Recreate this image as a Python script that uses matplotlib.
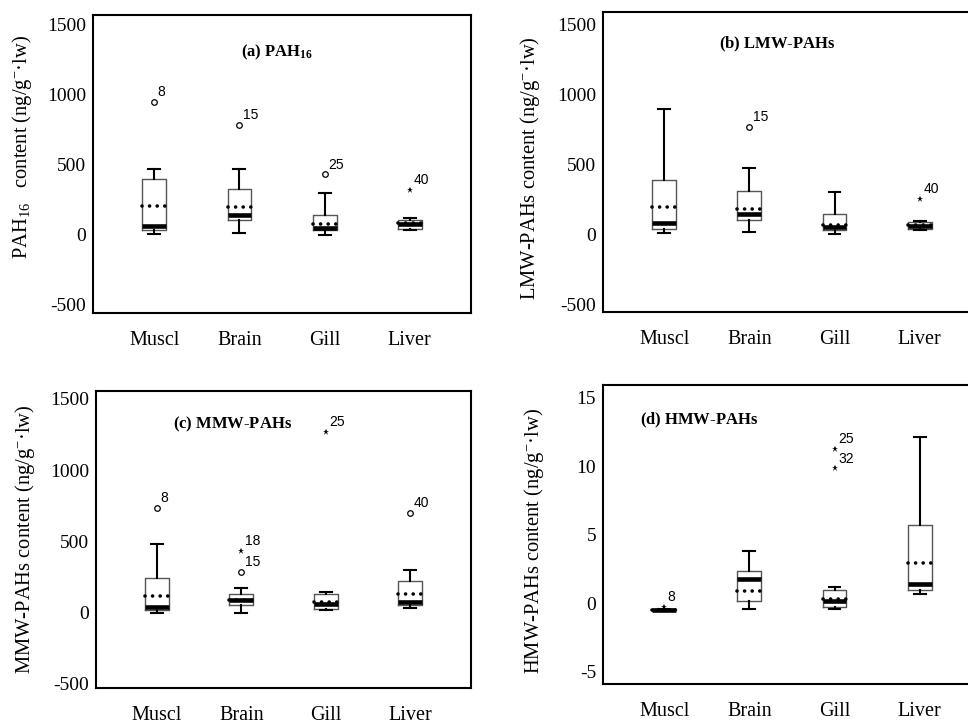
import matplotlib.pyplot as plt

plt.rcParams['font.family'] = 'Liberation Serif'
plt.rcParams['mathtext.fontset'] = 'custom'
plt.rcParams['mathtext.rm'] = 'Liberation Serif'
plt.rcParams['mathtext.bf'] = 'Liberation Serif:bold'
plt.rcParams['mathtext.it'] = 'Liberation Serif:italic'
plt.rcParams['axes.unicode_minus'] = False

organs = ['Muscl', 'Brain', 'Gill', 'Liver']

# (a) PAH16
pah16_low = [5, 12, 0, 31]
pah16_q1 = [36, 105, 31, 38]
pah16_med = [64, 138, 50, 74]
pah16_q3 = [398, 326, 143, 105]
pah16_high = [471, 467, 298, 121]
pah16_mean = [202, 195, 76, 80]
pah16_out_organ = ['Muscl', 'Brain', 'Gill', 'Liver']
pah16_out_val = [952, 783, 431, 321]
pah16_out_case = ['8', '15', '25', '40']
pah16_out_type = ['outlier', 'outlier', 'outlier', 'extreme']

# (b) LMW-PAHs
lmw_low = [17, 24, 10, 38]
lmw_q1 = [43, 107, 36, 45]
lmw_med = [83, 148, 60, 67]
lmw_q3 = [390, 312, 148, 95]
lmw_high = [902, 479, 307, 100]
lmw_mean = [202, 188, 69, 72]
lmw_out_organ = ['Brain', 'Liver']
lmw_out_val = [774, 257]
lmw_out_case = ['15', '40']
lmw_out_type = ['outlier', 'extreme']

# (c) MMW-PAHs
mmw_low = [-5, -5, 14, 28]
mmw_q1 = [16, 49, 26, 51]
mmw_med = [40, 89, 58, 70]
mmw_q3 = [241, 131, 129, 218]
mmw_high = [480, 173, 145, 297]
mmw_mean = [117, 89, 73, 129]
mmw_out_organ = ['Muscl', 'Brain', 'Brain', 'Gill', 'Liver']
mmw_out_val = [734, 430, 285, 1270, 697]
mmw_out_case = ['8', '18', '15', '25', '40']
mmw_out_type = ['outlier', 'extreme', 'outlier', 'extreme', 'outlier']

# (d) HMW-PAHs
hmw_low = [-0.5, -0.44, -0.44, 0.71]
hmw_q1 = [-0.5, 0.15, -0.24, 1.0]
hmw_med = [-0.45, 1.80, 0.17, 1.44]
hmw_q3 = [-0.4, 2.38, 0.95, 5.74]
hmw_high = [-0.4, 3.84, 1.19, 12.1]
hmw_mean = [-0.45, 0.92, 0.32, 2.94]
hmw_out_organ = ['Muscl', 'Gill', 'Gill']
hmw_out_val = [-0.24, 11.24, 9.85]
hmw_out_case = ['8', '25', '32']
hmw_out_type = ['extreme', 'extreme', 'extreme']


def draw_panel(ax, low, q1, med, q3, high, mean, out_organ, out_val, out_case, out_type,
               title, title_pos, ylabel, ylabel_pos, ylim, yticks):
    stats = []
    for i in range(len(organs)):
        stats.append(dict(label=organs[i], whislo=low[i], q1=q1[i], med=med[i],
                          q3=q3[i], whishi=high[i], mean=mean[i], fliers=[]))
    pos = list(range(1, len(organs) + 1))
    ax.bxp(stats, positions=pos, widths=0.28, capwidths=0.14,
           showmeans=True, meanline=True, showfliers=False,
           boxprops=dict(color='#555555', linewidth=1.0),
           whiskerprops=dict(color='black', linewidth=1.5),
           capprops=dict(color='black', linewidth=1.5),
           medianprops=dict(color='black', linewidth=3.3, solid_capstyle='butt'),
           meanprops=dict(color='black', linewidth=2.6, linestyle=(0, (0.01, 2.09)),
                          dash_capstyle='round'))
    for org, val, case, kind in zip(out_organ, out_val, out_case, out_type):
        x = organs.index(org) + 1
        if kind == 'outlier':
            ax.plot(x, val, 'o', ms=4, mfc='white', mec='black', mew=0.9)
        else:
            ax.plot(x, val, '*', ms=4.5, color='black', mew=0)
        ax.annotate(case, (x, val), xytext=(2.5, 2), textcoords='offset points',
                    ha='left', va='bottom', fontsize=10, family='Liberation Sans')
    ax.set_xlim(0.28, 4.72)
    ax.set_ylim(*ylim)
    ax.set_yticks(yticks)
    ax.set_xticks(pos, organs)
    ax.tick_params(axis='both', length=0, labelsize=14)
    ax.tick_params(axis='x', pad=13, labelsize=14.5)
    ax.tick_params(axis='y', pad=5)
    for sp in ax.spines.values():
        sp.set_linewidth(1.5)
    ax.text(title_pos[0], title_pos[1], title, transform=ax.transAxes,
            ha='center', va='center', fontsize=12)
    ax.set_ylabel(ylabel, fontsize=14.8)
    ax.yaxis.set_label_coords(*ylabel_pos)


fig = plt.figure(figsize=(9.68, 7.22), dpi=100)
ax_a = fig.add_axes([0.0961, 0.5665, 0.3905, 0.4127])
ax_b = fig.add_axes([0.6229, 0.5683, 0.3905, 0.4155])
ax_c = fig.add_axes([0.0992, 0.0471, 0.3874, 0.4114])
ax_d = fig.add_axes([0.6229, 0.0530, 0.3905, 0.4133])

big = [-500, 0, 500, 1000, 1500]
draw_panel(ax_a, pah16_low, pah16_q1, pah16_med, pah16_q3, pah16_high, pah16_mean,
           pah16_out_organ, pah16_out_val, pah16_out_case, pah16_out_type,
           r'$\mathbf{(a)\ PAH_{16}}$', (0.487, 0.876),
           r'PAH$_{16}$   content (ng/g$^{-}$·lw)', (-0.156, 0.557),
           (-560, 1571), big)
draw_panel(ax_b, lmw_low, lmw_q1, lmw_med, lmw_q3, lmw_high, lmw_mean,
           lmw_out_organ, lmw_out_val, lmw_out_case, lmw_out_type,
           r'$\mathbf{(b)\ LMW\text{-}PAHs}$', (0.46, 0.892),
           r'LMW-PAHs content (ng/g$^{-}$·lw)', (-0.162, 0.479),
           (-548, 1595), big)
draw_panel(ax_c, mmw_low, mmw_q1, mmw_med, mmw_q3, mmw_high, mmw_mean,
           mmw_out_organ, mmw_out_val, mmw_out_case, mmw_out_type,
           r'$\mathbf{(c)\ MMW\text{-}PAHs}$', (0.365, 0.889),
           r'MMW-PAHs content (ng/g$^{-}$·lw)', (-0.158, 0.5),
           (-531, 1556), big)
draw_panel(ax_d, hmw_low, hmw_q1, hmw_med, hmw_q3, hmw_high, hmw_mean,
           hmw_out_organ, hmw_out_val, hmw_out_case, hmw_out_type,
           r'$\mathbf{(d)\ HMW\text{-}PAHs}$', (0.254, 0.884),
           r'HMW-PAHs content (ng/g$^{-}$·lw)', (-0.151, 0.48),
           (-5.86, 15.9), [-5, 0, 5, 10, 15])

fig.savefig('out.png', dpi=100)
